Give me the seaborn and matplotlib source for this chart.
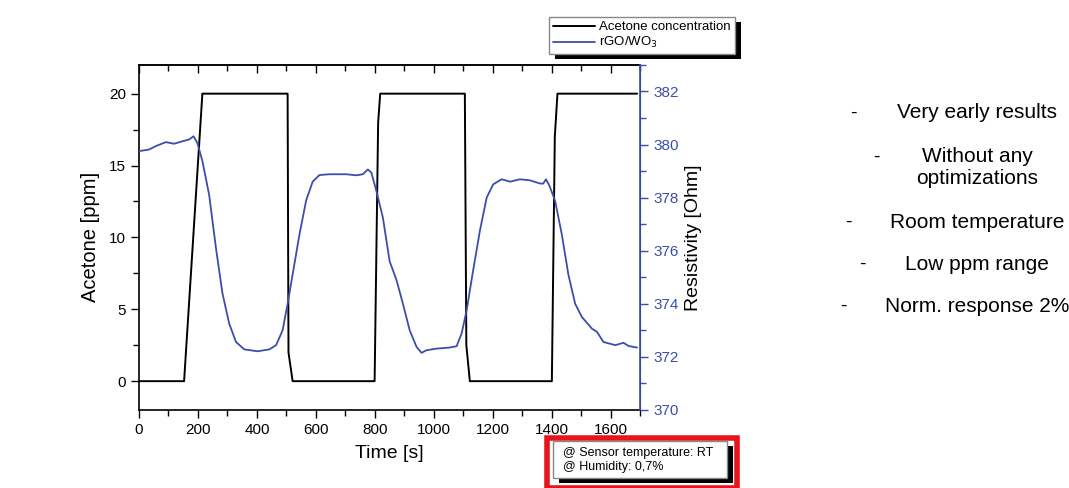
import matplotlib
matplotlib.use('Agg')
import matplotlib.pyplot as plt
import seaborn as sns
import pandas as pd
from matplotlib.patches import Rectangle
from matplotlib.ticker import MultipleLocator

# Acetone concentration steps (time in s, ppm)
acetone_time = [0, 153, 215, 504, 507, 521, 799, 811, 818, 1105, 1110, 1122, 1400, 1410, 1419, 1689]
acetone_ppm = [0, 0, 20, 20, 2, 0, 0, 18, 20, 20, 2.5, 0, 0, 17, 20, 20]

# rGO/WO3 sensor resistivity (time in s, Ohm)
res_time = [0, 34, 57, 91, 119, 147, 170, 185, 198, 215, 238, 261, 283, 306, 329, 357,
            402, 442, 465, 487, 504, 521, 544, 567, 589, 612, 646, 703, 737, 759, 776,
            788, 805, 827, 850, 873, 895, 918, 941, 958, 975, 1009, 1054, 1077, 1094,
            1111, 1133, 1156, 1179, 1201, 1230, 1258, 1292, 1326, 1360, 1371, 1380,
            1392, 1411, 1434, 1456, 1479, 1502, 1536, 1553, 1575, 1615, 1643, 1660, 1689]
res_ohm = [379.75, 379.81, 379.94, 380.09, 380.03, 380.12, 380.19, 380.31, 380.06,
           379.38, 378.1, 376.1, 374.4, 373.25, 372.56, 372.28, 372.21, 372.28, 372.44,
           373.0, 374.0, 375.1, 376.6, 377.9, 378.6, 378.85, 378.88, 378.88, 378.84,
           378.88, 379.06, 378.94, 378.25, 377.25, 375.6, 374.9, 374.0, 373.0, 372.38,
           372.15, 372.25, 372.31, 372.35, 372.4, 372.88, 373.75, 375.25, 376.75, 378.0,
           378.5, 378.69, 378.6, 378.69, 378.65, 378.53, 378.53, 378.69, 378.44, 377.88,
           376.6, 375.1, 374.0, 373.5, 373.06, 372.94, 372.56, 372.44, 372.53, 372.41,
           372.35]

notes = ["Very early results", "Without any\noptimizations", "Room temperature",
         "Low ppm range", "Norm. response 2%"]
conditions = "@ Sensor temperature: RT\n@ Humidity: 0,7%"

BLUE = '#3a4eac'

sns.set_style('white')
plt.rcParams['font.family'] = ['Liberation Sans', 'DejaVu Sans']
plt.rcParams['text.color'] = 'black'
plt.rcParams['axes.labelcolor'] = 'black'
plt.rcParams['xtick.color'] = 'black'
plt.rcParams['ytick.color'] = 'black'

df_ac = pd.DataFrame({'t': acetone_time, 'ppm': acetone_ppm})
df_res = pd.DataFrame({'t': res_time, 'ohm': res_ohm})

fig = plt.figure(figsize=(10.69, 4.88), dpi=100)
ax = fig.add_axes([0.130, 0.160, 0.469, 0.707])
ax2 = ax.twinx()

sns.lineplot(data=df_ac, x='t', y='ppm', ax=ax, color='black', lw=1.4,
             sort=False, label='Acetone concentration', legend=False)
sns.lineplot(data=df_res, x='t', y='ohm', ax=ax2, color=BLUE, lw=1.3,
             sort=False, label='rGO/WO$_3$', legend=False)

ax.set_xlim(0, 1700)
ax.set_ylim(-2, 22)
ax2.set_ylim(370, 383)

ax.xaxis.set_major_locator(MultipleLocator(200))
ax.xaxis.set_minor_locator(MultipleLocator(100))
ax.yaxis.set_major_locator(MultipleLocator(5))
ax.yaxis.set_minor_locator(MultipleLocator(2.5))
ax2.yaxis.set_major_locator(MultipleLocator(2))
ax2.yaxis.set_minor_locator(MultipleLocator(1))

ax.tick_params(axis='both', which='both', direction='out', labelsize=11,
               bottom=True, left=True, top=False)
ax.tick_params(which='major', length=6, width=1)
ax.tick_params(which='minor', length=4, width=1)

# top ticks point inward
top = ax.secondary_xaxis('top')
top.xaxis.set_major_locator(MultipleLocator(200))
top.xaxis.set_minor_locator(MultipleLocator(100))
top.tick_params(which='both', direction='in', labeltop=False, top=True)
top.tick_params(which='major', length=6, width=1)
top.tick_params(which='minor', length=4, width=1)
top.spines['top'].set_linewidth(1.2)

ax2.tick_params(axis='y', which='both', direction='out', colors=BLUE, labelsize=11,
                right=True)
ax2.tick_params(which='major', length=6, width=1)
ax2.tick_params(which='minor', length=4, width=1)

for s in ['left', 'bottom', 'top']:
    ax.spines[s].set_color('black')
    ax.spines[s].set_linewidth(1.2)
ax2.spines['right'].set_color(BLUE)
ax2.spines['right'].set_linewidth(1.2)
ax2.spines['left'].set_visible(False)
ax2.spines['top'].set_visible(False)
ax2.spines['bottom'].set_visible(False)

ax.set_xlabel('Time [s]', fontsize=14, labelpad=6)
ax.set_ylabel('Acetone [ppm]', fontsize=14.5, labelpad=6)
ax2.set_ylabel('Resistivity [Ohm]', fontsize=14, color='black', labelpad=4)

# legend with a solid black drop shadow
handles = ax.get_lines()[:1] + ax2.get_lines()[:1]
leg = fig.legend(handles=handles, labels=['Acetone concentration', 'rGO/WO$_3$'],
                 loc='upper left', bbox_to_anchor=(549 / 1069, 1 - 17 / 488),
                 frameon=True, fancybox=False, edgecolor='#888888', framealpha=1,
                 fontsize=9.5, handlelength=3.2, borderpad=0.3, labelspacing=0.15,
                 handletextpad=0.3, borderaxespad=0)
leg.set_zorder(5)
fig.canvas.draw()
bb = leg.get_window_extent().transformed(fig.transFigure.inverted())
fig.add_artist(Rectangle((bb.x0 + 6 / 1069, bb.y0 - 5 / 488), bb.width, bb.height,
                         transform=fig.transFigure, facecolor='black',
                         edgecolor='none', zorder=4))

# conditions box
fig.add_artist(Rectangle((547 / 1069, 0), 190 / 1069, 50 / 488,
                         transform=fig.transFigure, facecolor='white',
                         edgecolor='#e8141c', linewidth=4))
fig.add_artist(Rectangle((559 / 1069, 1 - 483 / 488), 174 / 1069, 37 / 488,
                         transform=fig.transFigure, facecolor='black', edgecolor='none'))
fig.add_artist(Rectangle((553 / 1069, 1 - 478 / 488), 174 / 1069, 37 / 488,
                         transform=fig.transFigure, facecolor='white',
                         edgecolor='#888888', linewidth=1))
fig.text(563 / 1069, 1 - 460 / 488, conditions, fontsize=9, va='center', ha='left',
         linespacing=1.25)

# notes on the right
dash_x = [853, 876, 848, 862, 843]
note_y = [113, 168, 222, 264, 306]
for dx, ny, note in zip(dash_x, note_y, notes):
    dy = ny if '\n' not in note else 157
    fig.text(dx / 1069, 1 - dy / 488, '-', fontsize=14, ha='center', va='center')
    fig.text(977 / 1069, 1 - ny / 488, note, fontsize=15, ha='center', va='center',
             linespacing=1.2)

fig.savefig('out.png', dpi=100, facecolor='white')
